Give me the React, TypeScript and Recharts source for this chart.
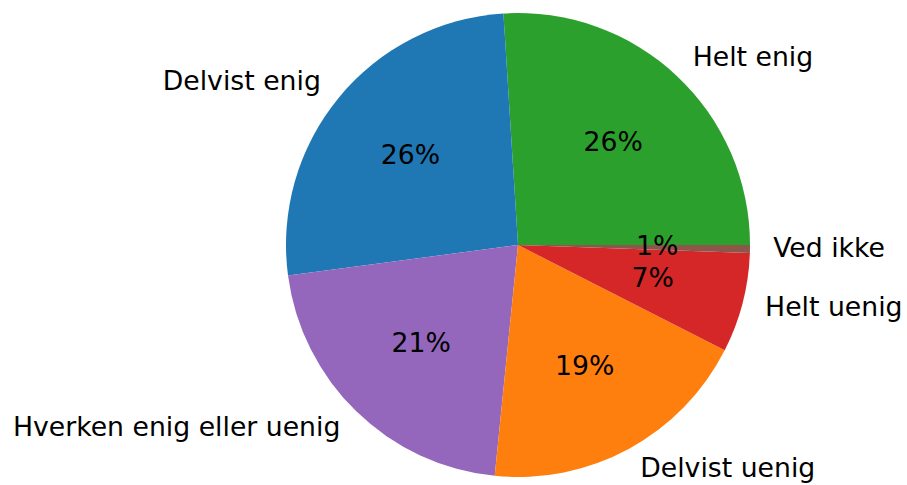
import { PieChart, Pie, Cell } from "recharts";

const categories = ["Helt enig", "Delvist enig", "Hverken enig eller uenig", "Delvist uenig", "Helt uenig", "Ved ikke"];
const shares = [26.0, 26.1, 21.3, 19.1, 6.95, 0.55];
const COLORS = ["#2ca02c", "#1f77b4", "#9467bd", "#ff7f0e", "#d62728", "#8c564b"];

const data = categories.map((name, i) => ({ name, value: shares[i] }));
const RADIAN = Math.PI / 180;

function renderLabel(props: any) {
  const { cx, cy, midAngle, outerRadius, percent, name } = props;
  const cos = Math.cos(-midAngle * RADIAN);
  const sin = Math.sin(-midAngle * RADIAN);
  const lr = outerRadius * 1.1;
  const pr = outerRadius * 0.6;
  return (
    <g>
      <text
        x={cx + lr * cos}
        y={cy + lr * sin - 2}
        textAnchor={cos >= 0 ? "start" : "end"}
        dominantBaseline="central"
        fill="#000"
        fontSize={26.7}
        fontFamily="DejaVu Sans"
      >
        {name}
      </text>
      <text
        x={cx + pr * cos}
        y={cy + pr * sin - 2}
        textAnchor="middle"
        dominantBaseline="central"
        fill="#000"
        fontSize={26.7}
        fontFamily="DejaVu Sans"
      >
        {Math.round(percent * 100)}%
      </text>
    </g>
  );
}

export default function App() {
  return (
    <div style={{ position: "absolute", left: 0, top: 0, width: 907, height: 485, background: "#fff" }}>
      <PieChart width={907} height={485} margin={{ top: 0, right: 0, bottom: 0, left: 0 }}>
        <Pie
          data={data}
          dataKey="value"
          nameKey="name"
          cx={518}
          cy={245}
          outerRadius={232}
          startAngle={0}
          endAngle={360}
          label={renderLabel}
          labelLine={false}
          isAnimationActive={false}
          stroke="none"
        >
          {data.map((_, i) => (
            <Cell key={i} fill={COLORS[i]} stroke="none" />
          ))}
        </Pie>
      </PieChart>
    </div>
  );
}
